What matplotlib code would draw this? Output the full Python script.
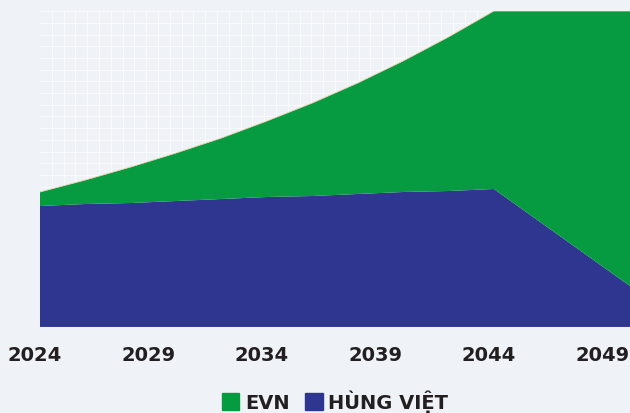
import matplotlib
matplotlib.use('Agg')
import matplotlib.pyplot as plt
import matplotlib.transforms as mtransforms
from matplotlib.patches import Patch

# data (arbitrary units)
years = [2024, 2026, 2028, 2030, 2032, 2034, 2036, 2038, 2040, 2042, 2044, 2050]
hung_viet = [121, 123, 124, 126, 128, 130, 131, 133, 135, 136, 138, 41]
evn = [14, 24, 36, 48, 61, 76, 93, 111, 131, 154, 178, 275]
tick_years = [2024, 2029, 2034, 2039, 2044, 2049]
series_names = ['EVN', 'HÙNG VIỆT']

bg = '#eff3f7'
green = '#069a41'
blue = '#2e3690'

fig = plt.figure(figsize=(6.3, 4.14), dpi=100)
fig.patch.set_facecolor(bg)
ax = fig.add_axes([40 / 630, 86 / 414, 590 / 630, 316 / 414])
ax.set_facecolor(bg)

ax.stackplot(years, hung_viet, evn, colors=[blue, green], linewidth=0)
top = [a + b for a, b in zip(hung_viet, evn)]
ax.plot(years, top, color='#f3cfae', lw=0.6, zorder=3)

ax.set_xlim(2024, 2050)
ax.set_ylim(0, 316)

# faint white grid behind the areas
ax.set_axisbelow(True)
ax.set_xticks([2024 + i * 0.52 for i in range(51)], minor=True)
ax.set_yticks([i * 11.7 for i in range(28)], minor=True)
ax.grid(which='minor', color='#f8fafc', lw=0.8)
ax.tick_params(which='minor', length=0)

ax.set_xticks(tick_years)
ax.set_xticklabels([str(y) for y in tick_years], fontsize=14, fontweight='heavy', color='#231f20')
ax.tick_params(axis='x', length=0, pad=13)
ax.set_yticks([])
offset = mtransforms.ScaledTranslation(-5 / 100, 0, fig.dpi_scale_trans)
for lbl in ax.get_xticklabels():
    lbl.set_transform(lbl.get_transform() + offset)

for s in ax.spines.values():
    s.set_visible(False)
ax.axhline(0, color='#b9bfdc', lw=0.8, zorder=4)

handles = [Patch(color=green), Patch(color=blue)]
leg = fig.legend(handles, series_names, loc='center', bbox_to_anchor=(335 / 630, 1 - 402 / 414),
                 ncol=2, frameon=False, handlelength=0.9, handleheight=0.9,
                 handletextpad=0.3, columnspacing=0.8,
                 prop={'weight': 'heavy', 'size': 14})
for t in leg.get_texts():
    t.set_color('#231f20')

fig.savefig('out.png', dpi=100, facecolor=bg)
